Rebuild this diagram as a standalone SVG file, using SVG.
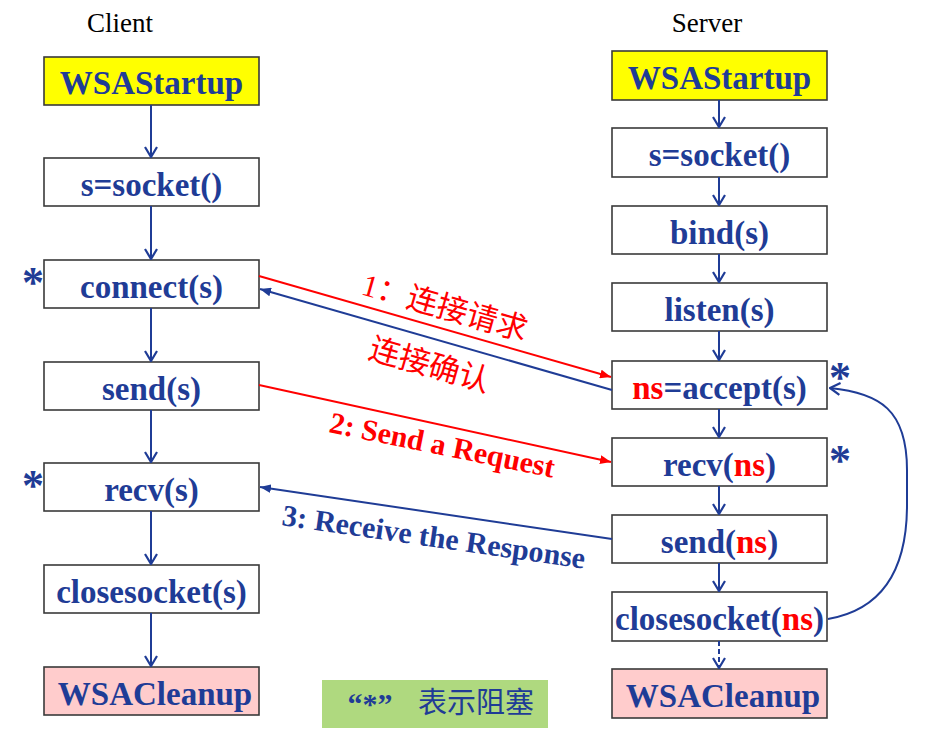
<svg xmlns="http://www.w3.org/2000/svg" width="927" height="740" viewBox="0 0 927 740">
<defs>
<style>
.box{fill:#fff;stroke:#3a3a3a;stroke-width:1.6}
.yel{fill:#ffff00}
.pink{fill:#ffcccc}
.lbl{font-family:"Liberation Serif","Times New Roman",serif;font-weight:bold;font-size:33px;fill:#1f3c96;text-anchor:middle}
.red{fill:#ff0000}
.title{font-family:"Liberation Serif","Times New Roman",serif;font-size:27px;fill:#000;text-anchor:middle}
.star{font-family:"Liberation Serif","Times New Roman",serif;font-weight:bold;font-size:44px;fill:#1f3c96;text-anchor:middle}
.vline{stroke:#1f3c96;stroke-width:2;fill:none;marker-end:url(#vee)}
.xr{stroke:#ff0000;stroke-width:2;fill:none;marker-end:url(#triR)}
.xb{stroke:#1f3c96;stroke-width:2;fill:none;marker-end:url(#triB)}
.cn{font-family:"Liberation Serif","Noto Sans CJK SC",serif;font-size:31px;fill:#ff0000}
.en{font-family:"Liberation Serif","Times New Roman",serif;font-weight:bold;font-size:30px}
</style>
<marker id="vee" viewBox="0 0 12 14" refX="11" refY="7" markerWidth="12" markerHeight="14" markerUnits="userSpaceOnUse" orient="auto">
<path d="M1,1 L11,7 L1,13" fill="none" stroke="#1f3c96" stroke-width="2.2"/>
</marker>
<marker id="triR" viewBox="0 0 10 8" refX="10" refY="4" markerWidth="11" markerHeight="9" markerUnits="userSpaceOnUse" orient="auto">
<path d="M0,0 L10,4 L0,8 z" fill="#ff0000"/>
</marker>
<marker id="triB" viewBox="0 0 10 8" refX="10" refY="4" markerWidth="11" markerHeight="9" markerUnits="userSpaceOnUse" orient="auto">
<path d="M0,0 L10,4 L0,8 z" fill="#1f3c96"/>
</marker>
</defs>
<rect width="927" height="740" fill="#fff"/>

<text class="title" x="120" y="32">Client</text>
<text class="title" x="707" y="32">Server</text>

<g id="c-startup"><rect class="box yel" x="44" y="57" width="215" height="48"/><text class="lbl" x="151.5" y="94">WSAStartup</text></g>
<g id="c-socket"><rect class="box" x="44" y="158" width="215" height="48"/><text class="lbl" x="151.5" y="196">s=socket()</text></g>
<g id="c-connect"><rect class="box" x="44" y="260" width="215" height="48"/><text class="lbl" x="151.5" y="298">connect(s)</text><text class="star" x="33" y="297">*</text></g>
<g id="c-send"><rect class="box" x="44" y="362" width="215" height="48"/><text class="lbl" x="151.5" y="400">send(s)</text></g>
<g id="c-recv"><rect class="box" x="44" y="463" width="215" height="48"/><text class="lbl" x="151.5" y="501">recv(s)</text><text class="star" x="33" y="500">*</text></g>
<g id="c-close"><rect class="box" x="44" y="565" width="215" height="48"/><text class="lbl" x="151.5" y="603">closesocket(s)</text></g>
<g id="c-cleanup"><rect class="box pink" x="44" y="667" width="215" height="48"/><text class="lbl" x="155" y="705">WSACleanup</text></g>

<g id="s-startup"><rect class="box yel" x="612" y="51" width="215" height="49"/><text class="lbl" x="719.5" y="89">WSAStartup</text></g>
<g id="s-socket"><rect class="box" x="612" y="128" width="215" height="49"/><text class="lbl" x="719.5" y="166">s=socket()</text></g>
<g id="s-bind"><rect class="box" x="612" y="206" width="215" height="48"/><text class="lbl" x="719.5" y="244">bind(s)</text></g>
<g id="s-listen"><rect class="box" x="612" y="283" width="215" height="48"/><text class="lbl" x="719.5" y="321">listen(s)</text></g>
<g id="s-accept"><rect class="box" x="612" y="361" width="215" height="48"/><text class="lbl" x="719.5" y="399"><tspan class="red">ns</tspan>=accept(s)</text><text class="star" x="840" y="392">*</text></g>
<g id="s-recv"><rect class="box" x="612" y="438" width="215" height="48"/><text class="lbl" x="719.5" y="476">recv(<tspan class="red">ns</tspan>)</text><text class="star" x="840" y="475">*</text></g>
<g id="s-send"><rect class="box" x="612" y="515" width="215" height="48"/><text class="lbl" x="719.5" y="553">send(<tspan class="red">ns</tspan>)</text></g>
<g id="s-close"><rect class="box" x="612" y="592" width="215" height="49"/><text class="lbl" x="719.5" y="630">closesocket(<tspan class="red">ns</tspan>)</text></g>
<g id="s-cleanup"><rect class="box pink" x="612" y="669" width="215" height="49"/><text class="lbl" x="723" y="707">WSACleanup</text></g>

<g id="legend"><rect x="322" y="680" width="226" height="48" fill="#afd97f"/><text x="370" y="714" font-family="Liberation Serif,serif" font-weight="bold" font-size="30" fill="#1f3c96" text-anchor="middle">“*”</text><text x="476" y="713" font-family="Noto Sans CJK SC,sans-serif" font-size="29" fill="#1f3c96" text-anchor="middle">表示阻塞</text></g>

<g id="connectors">
<line class="vline" x1="151" y1="105" x2="151" y2="157"/>
<line class="vline" x1="151" y1="206" x2="151" y2="259"/>
<line class="vline" x1="151" y1="308" x2="151" y2="361"/>
<line class="vline" x1="151" y1="410" x2="151" y2="462"/>
<line class="vline" x1="151" y1="511" x2="151" y2="564"/>
<line class="vline" x1="151" y1="613" x2="151" y2="666"/>
<line class="vline" x1="719" y1="100" x2="719" y2="127"/>
<line class="vline" x1="719" y1="177" x2="719" y2="205"/>
<line class="vline" x1="719" y1="254" x2="719" y2="282"/>
<line class="vline" x1="719" y1="331" x2="719" y2="360"/>
<line class="vline" x1="719" y1="409" x2="719" y2="437"/>
<line class="vline" x1="719" y1="486" x2="719" y2="514"/>
<line class="vline" x1="719" y1="563" x2="719" y2="591"/>
<line class="vline" x1="719" y1="641" x2="719" y2="668" stroke-dasharray="5,3"/>
<line class="xr" x1="259" y1="276" x2="611" y2="377"/>
<line class="xb" x1="612" y1="390" x2="260" y2="289"/>
<line class="xr" x1="259" y1="385" x2="611" y2="462"/>
<line class="xb" x1="612" y1="539" x2="260" y2="487"/>
<path class="vline" d="M828 619 C880 610 907 572 907 505 L907 470 C907 410 880 393 830 388"/>
</g>

<g id="labels">
<text class="cn" transform="translate(360,294) rotate(16)">1：连接请求</text>
<text class="cn" transform="translate(367,358) rotate(16)">连接确认</text>
<text class="en" fill="#ff0000" transform="translate(328,432) rotate(11.5)">2: Send a Request</text>
<text class="en" fill="#1f3c96" transform="translate(281,525) rotate(8.2)">3: Receive the Response</text>
</g>
</svg>
